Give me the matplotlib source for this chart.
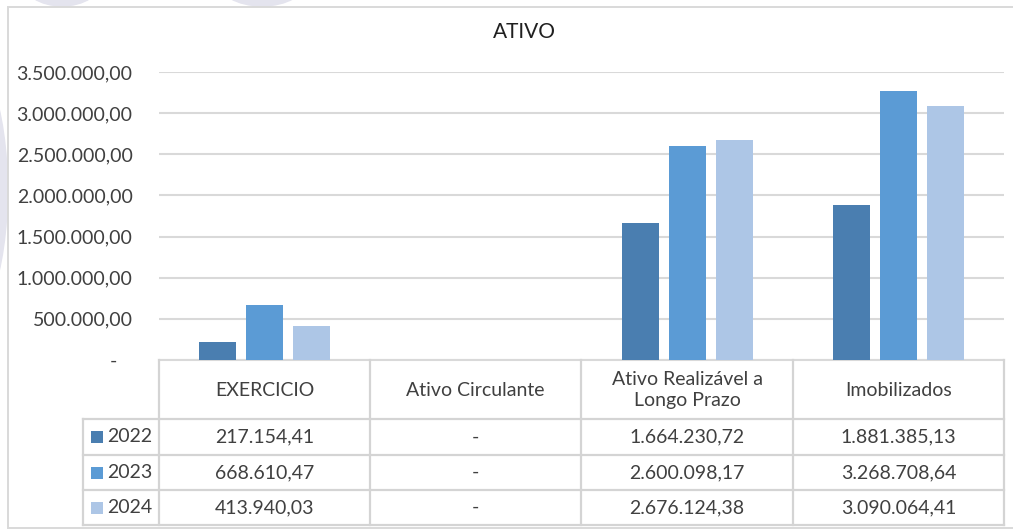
import matplotlib.pyplot as plt
import numpy as np
from matplotlib.patches import Rectangle, Ellipse

plt.rcParams["font.family"] = ["Lato", "DejaVu Sans"]

# data
categories = ["EXERCICIO", "Ativo Circulante", "Ativo Realizável a\nLongo Prazo", "Imobilizados"]
years = ["2022", "2023", "2024"]
v2022 = [217154.41, 0, 1664230.72, 1881385.13]
v2023 = [668610.47, 0, 2600098.17, 3268708.64]
v2024 = [413940.03, 0, 2676124.38, 3090064.41]
series = [v2022, v2023, v2024]
colors = ["#4A7EB0", "#5B9BD5", "#ADC6E6"]
yticks = [0, 500000, 1000000, 1500000, 2000000, 2500000, 3000000, 3500000]

W, H = 1013, 529
txt = "#404040"
grid_c = "#D9D9D9"
fs = 14


def br(v):
    if v == 0:
        return "-"
    s = f"{v:,.2f}"
    return s.replace(",", "X").replace(".", ",").replace("X", ".")


def fx(px):
    return px / W


def fy(py):
    return 1 - py / H


fig = plt.figure(figsize=(W / 100, H / 100), dpi=100, facecolor="white")

# faint watermark shapes behind the chart frame
bg = fig.add_axes([0, 0, 1, 1], zorder=-5)
bg.set_xlim(0, W)
bg.set_ylim(H, 0)
bg.axis("off")
wm = "#E4E4EE"
bg.add_patch(Ellipse((62, -20), 80, 52, color=wm))
bg.add_patch(Ellipse((262, -20), 90, 52, color=wm))
bg.add_patch(Ellipse((-45, 190), 105, 300, color=wm))

# bar axes
ax_l, ax_r, ax_t, ax_b = 159, 1004, 72, 360
ax = fig.add_axes([fx(ax_l), fy(ax_b), fx(ax_r - ax_l), (ax_b - ax_t) / H])
x = np.arange(len(categories))
bw = 0.175
step = 0.2225
for i, (vals, c) in enumerate(zip(series, colors)):
    ax.bar(x + (i - 1) * step, vals, width=bw, color=c, zorder=3)

ax.set_xlim(-0.5, len(categories) - 0.5)
ax.set_ylim(0, 3500000)
ax.set_yticks(yticks)
ax.set_yticklabels([br(t) if t else "-   " for t in yticks], fontsize=fs, color=txt)
ax.tick_params(axis="y", length=0, pad=19)
ax.set_xticks([])
ax.grid(axis="y", color=grid_c, linewidth=1.5, zorder=0)
for s in ["top", "right", "left"]:
    ax.spines[s].set_visible(False)
ax.spines["bottom"].set_color(grid_c)
ax.spines["bottom"].set_linewidth(1.5)
ax.patch.set_alpha(0)

fig.text(fx(524), fy(32), "ATIVO", ha="center", va="center", fontsize=15, color="#202020")

# data table (overlay in pixel coordinates)
tb = fig.add_axes([0, 0, 1, 1])
tb.set_xlim(0, W)
tb.set_ylim(H, 0)
tb.axis("off")
tb.patch.set_alpha(0)

# chart frame (white inside, covering the watermark)
bg.add_patch(Rectangle((8, 7), 1012, 521, facecolor="white", edgecolor=grid_c, linewidth=1.4))

col_x = [159, 370, 581, 793, 1004]
row_y = [360, 419, 455, 490, 525]
leg_x = 83
lc = "#D4D4D4"
lw = 1.6
for cx in col_x:
    tb.plot([cx, cx], [row_y[0], row_y[-1]], color=lc, lw=lw)
tb.plot([leg_x, leg_x], [row_y[1], row_y[-1]], color=lc, lw=lw)
for ry in row_y[1:]:
    tb.plot([leg_x, col_x[-1]], [ry, ry], color=lc, lw=lw)

for j, cat in enumerate(categories):
    cx = (col_x[j] + col_x[j + 1]) / 2
    tb.text(cx, (row_y[0] + row_y[1]) / 2 + 0.5, cat, ha="center", va="center",
            fontsize=fs, color=txt, linespacing=1.3)

for i, (yr, vals, c) in enumerate(zip(years, series, colors)):
    cy = (row_y[i + 1] + row_y[i + 2]) / 2
    tb.add_patch(Rectangle((91, cy - 6), 12, 12, facecolor=c, edgecolor="none"))
    tb.text(107, cy, yr, ha="left", va="center", fontsize=fs, color=txt)
    for j, v in enumerate(vals):
        cx = (col_x[j] + col_x[j + 1]) / 2
        tb.text(cx, cy, br(v), ha="center", va="center", fontsize=fs, color=txt)

fig.savefig("out.png", dpi=100, facecolor="white")
